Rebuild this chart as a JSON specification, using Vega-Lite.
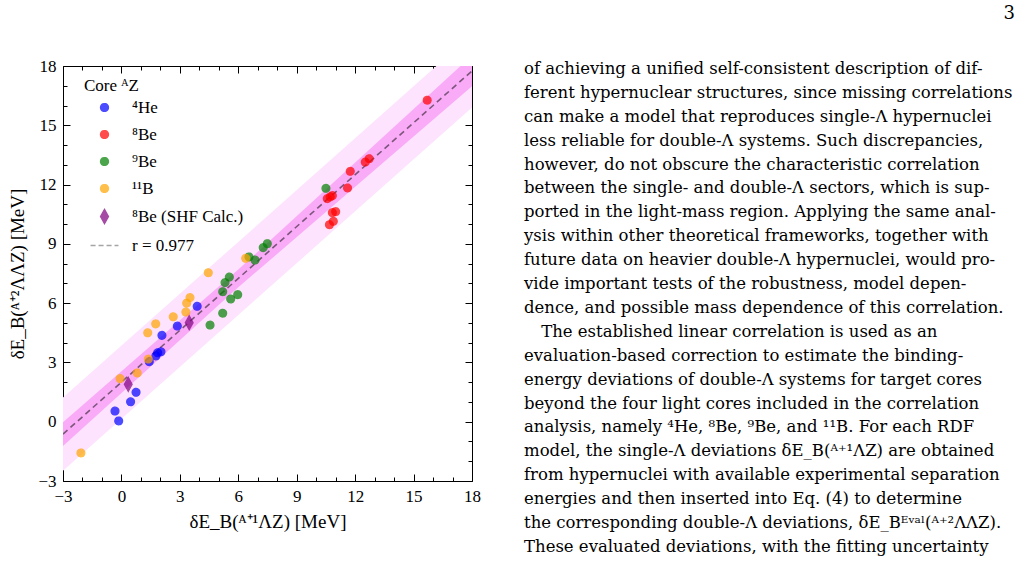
{
  "$schema": "https://vega.github.io/schema/vega-lite/v6.json",
  "padding": {"left": 8, "top": 5, "right": 0, "bottom": 0},
  "bounds": "flush",
  "spacing": 52,
  "config": {
    "view": {"stroke": null},
    "font": "Liberation Serif",
    "axis": {
      "grid": false,
      "domainColor": "black",
      "domainWidth": 1,
      "tickColor": "black",
      "tickWidth": 1,
      "labelColor": "black",
      "titleColor": "black",
      "labelFont": "Liberation Serif",
      "titleFont": "Liberation Serif",
      "labelFontSize": 17,
      "titleFontSize": 19,
      "titleFontWeight": "normal"
    },
    "legend": {
      "labelFont": "Liberation Serif",
      "titleFont": "Liberation Serif",
      "orient": "none",
      "legendX": 21,
      "legendY": 12,
      "padding": 0,
      "titleFontSize": 17,
      "titleFontWeight": "normal",
      "titleColor": "black",
      "titlePadding": 4,
      "labelFontSize": 17,
      "labelColor": "black",
      "symbolSize": 60,
      "symbolOffset": 12,
      "labelOffset": 19,
      "rowPadding": 9
    }
  },
  "datasets": {
    "hypernuclei": [
      {"core": "⁴He", "dEB_single": -0.33, "dEB_double": 0.54},
      {"core": "⁴He", "dEB_single": -0.14, "dEB_double": 0.04},
      {"core": "⁴He", "dEB_single": 0.47, "dEB_double": 1.01},
      {"core": "⁴He", "dEB_single": 0.75, "dEB_double": 1.49},
      {"core": "⁴He", "dEB_single": 1.43, "dEB_double": 3.04},
      {"core": "⁴He", "dEB_single": 1.77, "dEB_double": 3.33},
      {"core": "⁴He", "dEB_single": 1.86, "dEB_double": 3.49},
      {"core": "⁴He", "dEB_single": 2.03, "dEB_double": 3.54},
      {"core": "⁴He", "dEB_single": 2.08, "dEB_double": 4.37},
      {"core": "⁴He", "dEB_single": 2.87, "dEB_double": 4.84},
      {"core": "⁴He", "dEB_single": 3.89, "dEB_double": 5.84},
      {"core": "⁸Be", "dEB_single": 15.7, "dEB_double": 16.27},
      {"core": "⁸Be", "dEB_single": 12.72, "dEB_double": 13.31},
      {"core": "⁸Be", "dEB_single": 12.52, "dEB_double": 13.14},
      {"core": "⁸Be", "dEB_single": 11.75, "dEB_double": 12.67},
      {"core": "⁸Be", "dEB_single": 11.61, "dEB_double": 11.83},
      {"core": "⁸Be", "dEB_single": 10.83, "dEB_double": 11.44},
      {"core": "⁸Be", "dEB_single": 10.57, "dEB_double": 11.29},
      {"core": "⁸Be", "dEB_single": 10.72, "dEB_double": 11.38},
      {"core": "⁸Be", "dEB_single": 11.0, "dEB_double": 10.63},
      {"core": "⁸Be", "dEB_single": 10.83, "dEB_double": 10.58},
      {"core": "⁸Be", "dEB_single": 10.88, "dEB_double": 10.14},
      {"core": "⁸Be", "dEB_single": 10.68, "dEB_double": 9.97},
      {"core": "⁹Be", "dEB_single": 4.55, "dEB_double": 4.89},
      {"core": "⁹Be", "dEB_single": 5.2, "dEB_double": 5.49},
      {"core": "⁹Be", "dEB_single": 5.61, "dEB_double": 6.21},
      {"core": "⁹Be", "dEB_single": 5.97, "dEB_double": 6.43},
      {"core": "⁹Be", "dEB_single": 5.2, "dEB_double": 6.58},
      {"core": "⁹Be", "dEB_single": 5.32, "dEB_double": 7.04},
      {"core": "⁹Be", "dEB_single": 5.54, "dEB_double": 7.32},
      {"core": "⁹Be", "dEB_single": 6.55, "dEB_double": 8.34},
      {"core": "⁹Be", "dEB_single": 6.86, "dEB_double": 8.18},
      {"core": "⁹Be", "dEB_single": 7.28, "dEB_double": 8.81},
      {"core": "⁹Be", "dEB_single": 7.49, "dEB_double": 9.01},
      {"core": "⁹Be", "dEB_single": 10.5, "dEB_double": 11.81},
      {"core": "¹¹B", "dEB_single": -2.08, "dEB_double": -1.58},
      {"core": "¹¹B", "dEB_single": -0.07, "dEB_double": 2.18},
      {"core": "¹¹B", "dEB_single": 0.81, "dEB_double": 2.47},
      {"core": "¹¹B", "dEB_single": 1.38, "dEB_double": 3.17},
      {"core": "¹¹B", "dEB_single": 1.35, "dEB_double": 4.5},
      {"core": "¹¹B", "dEB_single": 1.76, "dEB_double": 4.95},
      {"core": "¹¹B", "dEB_single": 2.66, "dEB_double": 5.31},
      {"core": "¹¹B", "dEB_single": 3.31, "dEB_double": 5.55},
      {"core": "¹¹B", "dEB_single": 3.35, "dEB_double": 6.0},
      {"core": "¹¹B", "dEB_single": 3.52, "dEB_double": 6.28},
      {"core": "¹¹B", "dEB_single": 4.46, "dEB_double": 7.54},
      {"core": "¹¹B", "dEB_single": 6.38, "dEB_double": 8.27},
      {"core": "⁸Be (SHF Calc.)", "dEB_single": 0.35, "dEB_double": 1.89},
      {"core": "⁸Be (SHF Calc.)", "dEB_single": 3.48, "dEB_double": 5.01}
    ],
    "fit_bands": [
      {"dEB_single": -3, "outer_lo": -2.475, "outer_hi": 1.225, "inner_lo": -1.225, "inner_hi": -0.025},
      {"dEB_single": 6, "outer_lo": 5.4, "outer_hi": 9.1, "inner_lo": 6.8, "inner_hi": 7.7},
      {"dEB_single": 18, "outer_lo": 15.9, "outer_hi": 19.6, "inner_lo": 16.97, "inner_hi": 18.53}
    ],
    "fit_line": [
      {"dEB_single": -3, "dEB_double": -0.625},
      {"dEB_single": 18, "dEB_double": 17.75}
    ],
    "body_text": [
      {"line": 1, "text": "of achieving a unified self-consistent description of dif-"},
      {"line": 2, "text": "ferent hypernuclear structures, since missing correlations"},
      {"line": 3, "text": "can make a model that reproduces single-Λ hypernuclei"},
      {"line": 4, "text": "less reliable for double-Λ systems.  Such discrepancies,"},
      {"line": 5, "text": "however, do not obscure the characteristic correlation"},
      {"line": 6, "text": "between the single- and double-Λ sectors, which is sup-"},
      {"line": 7, "text": "ported in the light-mass region. Applying the same anal-"},
      {"line": 8, "text": "ysis within other theoretical frameworks, together with"},
      {"line": 9, "text": "future data on heavier double-Λ hypernuclei, would pro-"},
      {"line": 10, "text": "vide important tests of the robustness, model depen-"},
      {"line": 11, "text": "dence, and possible mass dependence of this correlation."},
      {"line": 12, "text": "The established linear correlation is used as an"},
      {"line": 13, "text": "evaluation-based correction to estimate the binding-"},
      {"line": 14, "text": "energy deviations of double-Λ systems for target cores"},
      {"line": 15, "text": "beyond the four light cores included in the correlation"},
      {"line": 16, "text": "analysis, namely ⁴He, ⁸Be, ⁹Be, and ¹¹B. For each RDF"},
      {"line": 17, "text": "model, the single-Λ deviations δE_B(ᴬ⁺¹ΛZ) are obtained"},
      {"line": 18, "text": "from hypernuclei with available experimental separation"},
      {"line": 19, "text": "energies and then inserted into Eq. (4) to determine"},
      {"line": 20, "text": "the corresponding double-Λ deviations, δE_Bᴱᵛᵃˡ(ᴬ⁺²ΛΛZ)."},
      {"line": 21, "text": "These evaluated deviations, with the fitting uncertainty"}
    ],
    "folio": [
      {"line": -1.3, "text": "3"}
    ]
  },
  "hconcat": [
    {
      "width": 409,
      "height": 415,
      "layer": [
        {
          "data": {"name": "fit_bands"},
          "mark": {"type": "area", "color": "#fde3fd", "clip": true},
          "encoding": {
            "x": {
              "field": "dEB_single", "type": "quantitative",
              "scale": {"domain": [-3, 18], "nice": false, "zero": false},
              "axis": {
                "orient": "top", "title": null, "labels": false,
                "values": [-3,-2,-1,0,1,2,3,4,5,6,7,8,9,10,11,12,13,14,15,16,17,18],
                "tickSize": {"condition": {"test": "datum.value % 3 === 0", "value": -7}, "value": -4}
              }
            },
            "y": {
              "field": "outer_lo", "type": "quantitative",
              "scale": {"domain": [-3, 18], "nice": false, "zero": false},
              "axis": {
                "orient": "right", "title": null, "labels": false,
                "values": [-3,-2,-1,0,1,2,3,4,5,6,7,8,9,10,11,12,13,14,15,16,17,18],
                "tickSize": {"condition": {"test": "datum.value % 3 === 0", "value": -7}, "value": -4}
              }
            },
            "y2": {"field": "outer_hi"}
          }
        },
        {
          "data": {"name": "fit_bands"},
          "mark": {"type": "area", "color": "#f9abf7", "clip": true},
          "encoding": {
            "x": {"field": "dEB_single", "type": "quantitative", "axis": null},
            "y": {"field": "inner_lo", "type": "quantitative", "axis": null},
            "y2": {"field": "inner_hi"}
          }
        },
        {
          "data": {"name": "fit_line"},
          "mark": {"type": "line", "color": "black", "opacity": 0.5, "strokeWidth": 1.6, "strokeDash": [6, 4], "clip": true},
          "encoding": {
            "x": {"field": "dEB_single", "type": "quantitative", "axis": null},
            "y": {"field": "dEB_double", "type": "quantitative", "axis": null}
          }
        },
        {
          "data": {"name": "hypernuclei"},
          "mark": {"type": "point", "filled": true, "opacity": 0.7, "size": 60, "strokeWidth": 1.3},
          "encoding": {
            "x": {
              "field": "dEB_single", "type": "quantitative",
              "axis": {
                "orient": "bottom",
                "title": "δE_B(ᴬ⁺¹ΛZ) [MeV]",
                "titlePadding": 5,
                "values": [-3,-2,-1,0,1,2,3,4,5,6,7,8,9,10,11,12,13,14,15,16,17,18],
                "labelExpr": "datum.value % 3 === 0 ? datum.label : ''",
                "labelFlush": false,
                "labelOverlap": false,
                "labelPadding": 14,
                "tickSize": {"condition": {"test": "datum.value % 3 === 0", "value": -7}, "value": -4}
              }
            },
            "y": {
              "field": "dEB_double", "type": "quantitative",
              "axis": {
                "orient": "left",
                "title": "δE_B(ᴬ⁺²ΛΛZ) [MeV]",
                "titlePadding": 10,
                "values": [-3,-2,-1,0,1,2,3,4,5,6,7,8,9,10,11,12,13,14,15,16,17,18],
                "labelExpr": "datum.value % 3 === 0 ? datum.label : ''",
                "labelFlush": false,
                "labelOverlap": false,
                "labelPadding": 14,
                "tickSize": {"condition": {"test": "datum.value % 3 === 0", "value": -7}, "value": -4}
              }
            },
            "color": {
              "field": "core", "type": "nominal",
              "scale": {
                "domain": ["⁴He", "⁸Be", "⁹Be", "¹¹B", "⁸Be (SHF Calc.)", "r = 0.977"],
                "range": ["#0000ff", "#ff0000", "#008000", "#ffa500", "#800080", "#7f7f7f"]
              },
              "legend": {"title": "Core  ᴬZ"}
            },
            "stroke": {
              "field": "core", "type": "nominal",
              "scale": {
                "domain": ["⁴He", "⁸Be", "⁹Be", "¹¹B", "⁸Be (SHF Calc.)", "r = 0.977"],
                "range": ["#0000ff", "#ff0000", "#008000", "#ffa500", "#800080", "#7f7f7f"]
              },
              "legend": {"title": "Core  ᴬZ"}
            },
            "shape": {
              "field": "core", "type": "nominal",
              "scale": {
                "domain": ["⁴He", "⁸Be", "⁹Be", "¹¹B", "⁸Be (SHF Calc.)", "r = 0.977"],
                "range": ["circle", "circle", "circle", "circle", "M0,-1.8L1,0L0,1.8L-1,0Z", "M-3.6,0L3.6,0"]
              },
              "legend": {"title": "Core  ᴬZ"}
            },
            "strokeDash": {
              "field": "core", "type": "nominal",
              "scale": {
                "domain": ["⁴He", "⁸Be", "⁹Be", "¹¹B", "⁸Be (SHF Calc.)", "r = 0.977"],
                "range": [[1, 0], [1, 0], [1, 0], [1, 0], [1, 0], [5, 3]]
              },
              "legend": {"title": "Core  ᴬZ"}
            }
          }
        }
      ],
      "resolve": {"axis": {"x": "independent", "y": "independent"}}
    },
    {
      "width": 491,
      "height": 481,
      "layer": [
        {
          "data": {"name": "body_text"},
          "transform": [{"filter": "datum.line !== 12"}],
          "mark": {"type": "text", "align": "left", "baseline": "middle", "fontSize": 16.5, "font": "DejaVu Serif", "color": "black"},
          "encoding": {
            "x": {"datum": 0, "type": "quantitative", "scale": {"domain": [0, 1], "nice": false, "zero": false}, "axis": null},
            "y": {"field": "line", "type": "quantitative", "scale": {"domain": [0.875, 21], "reverse": true, "nice": false, "zero": false}, "axis": null},
            "text": {"field": "text"}
          }
        },
        {
          "data": {"name": "body_text"},
          "transform": [{"filter": "datum.line === 12"}],
          "mark": {"type": "text", "align": "left", "baseline": "middle", "fontSize": 16.5, "font": "DejaVu Serif", "color": "black"},
          "encoding": {
            "x": {"datum": 0.035, "type": "quantitative", "axis": null},
            "y": {"field": "line", "type": "quantitative", "axis": null},
            "text": {"field": "text"}
          }
        },
        {
          "data": {"name": "folio"},
          "mark": {"type": "text", "align": "right", "baseline": "middle", "fontSize": 18, "font": "DejaVu Serif", "color": "black"},
          "encoding": {
            "x": {"datum": 1, "type": "quantitative", "axis": null},
            "y": {"field": "line", "type": "quantitative", "axis": null},
            "text": {"field": "text"}
          }
        }
      ]
    }
  ]
}
